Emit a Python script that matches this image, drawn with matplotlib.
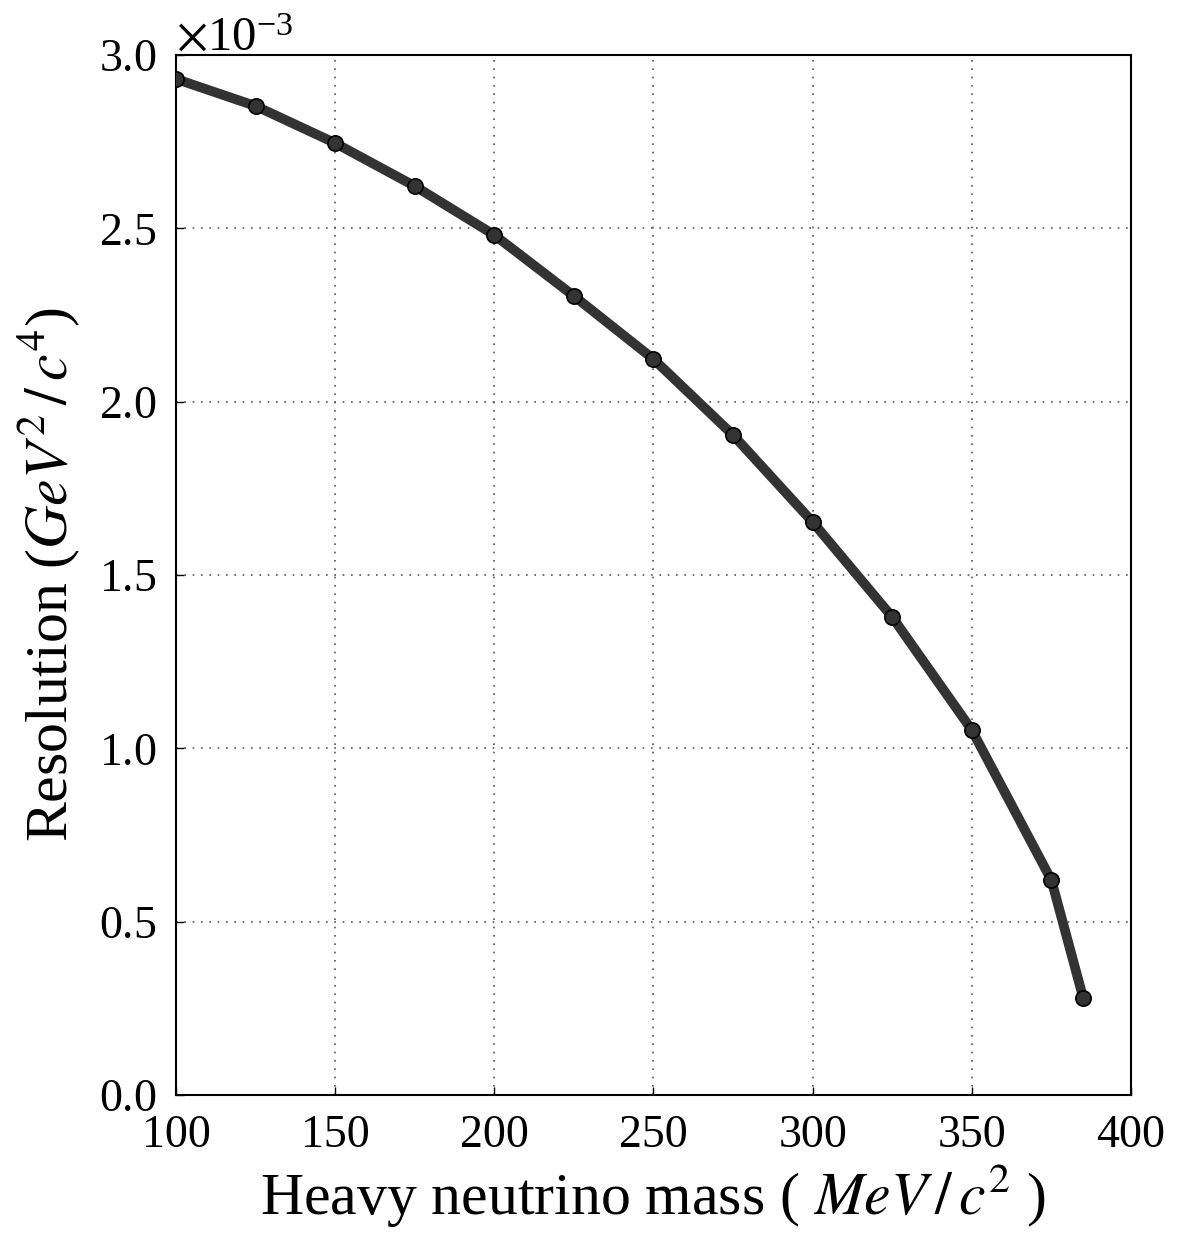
#!/usr/bin/env python

import numpy as np
import matplotlib
matplotlib.use("Agg")
import matplotlib.pyplot as plt
from matplotlib.ticker import ScalarFormatter

mass = [100, 125, 150, 175, 200, 225, 250, 275, 300, 325, 350, 375, 385]
resolution = [2.931, 2.853, 2.746, 2.622, 2.481, 2.305, 2.123, 1.904,
              1.653, 1.379, 1.053, 0.620, 0.280]  # x 1e-3


def plot_resolution():
    plt.rcParams['font.family'] = ['Liberation Serif', 'DejaVu Serif']
    plt.rcParams['mathtext.fontset'] = 'stix'

    fig = plt.figure(figsize=(12.01, 12.34), dpi=100)
    ax = fig.add_axes([0.1465, 0.1126, 0.7952, 0.8428])

    y = np.array(resolution) * 1e-3
    ax.plot(mass, y, '-', color='#333333', lw=7, marker='o', ms=11,
            mfc='#333333', mec='black', mew=1.2, zorder=3)

    ax.set_xlim(100, 400)
    ax.set_ylim(0, 3.0e-3)
    ax.set_xticks(np.arange(100, 401, 50))
    ax.set_yticks(np.arange(0, 3.01e-3, 0.5e-3))

    fmt = ScalarFormatter(useMathText=True)
    fmt.set_powerlimits((-2, 2))
    ax.yaxis.set_major_formatter(fmt)
    ax.yaxis.get_offset_text().set_fontsize(35)

    ax.grid(True, color='#555555', linestyle=(0, (1, 4)), lw=1.2)
    ax.tick_params(direction='in', length=6, width=1, labelsize=33)
    ax.tick_params(axis='x', pad=14)
    ax.tick_params(axis='y', pad=14)
    for s in ax.spines.values():
        s.set_linewidth(1.5)

    ax.set_xlabel(r"Heavy neutrino mass ( $MeV\,/\,c^2$ )", fontsize=43,
                  labelpad=3)
    ax.set_ylabel(r"Resolution ($GeV^2\,/\,c^4$)", fontsize=43, labelpad=12)
    fig.canvas.draw()
    ax.yaxis.get_offset_text().set_y(1.01)
    return fig


if __name__ == '__main__':
    fig = plot_resolution()
    fig.savefig("out.png", dpi=100)
